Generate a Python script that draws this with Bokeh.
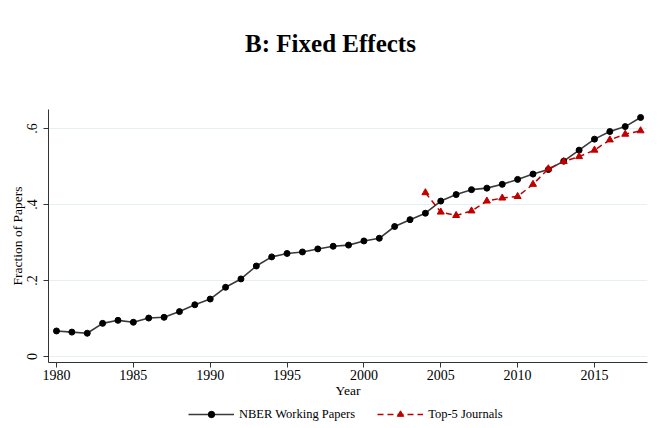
from bokeh.plotting import figure
from bokeh.models import Range1d, FixedTicker, Legend, LegendItem, Div
from bokeh.layouts import column
from bokeh.embed import file_html
from bokeh.resources import INLINE

nber_years = list(range(1980, 2019))
nber_vals = [0.067, 0.064, 0.061, 0.087, 0.095, 0.090, 0.101, 0.103, 0.118, 0.136,
             0.151, 0.182, 0.204, 0.238, 0.262, 0.271, 0.275, 0.283, 0.290, 0.293,
             0.304, 0.311, 0.342, 0.360, 0.377, 0.409, 0.426, 0.439, 0.443, 0.453,
             0.466, 0.480, 0.492, 0.514, 0.543, 0.572, 0.592, 0.605, 0.629]
top5_years = list(range(2004, 2019))
top5_vals = [0.431, 0.380, 0.371, 0.383, 0.409, 0.417, 0.421, 0.453, 0.494, 0.513,
             0.526, 0.543, 0.570, 0.585, 0.594]
x_ticks = [1980, 1985, 1990, 1995, 2000, 2005, 2010, 2015]
y_ticks = [0, 0.2, 0.4, 0.6]
y_tick_labels = ["0", ".2", ".4", ".6"]
title_text = "B: Fixed Effects"

FONT = "Liberation Serif"
W = 651

title = Div(text=title_text, width=W, height=78,
            styles={"font-family": FONT, "font-size": "25px", "font-weight": "bold",
                    "text-align": "center", "line-height": "78px", "color": "black",
                    "width": f"{W}px"})

p = figure(width=W, height=312, output_backend="svg", toolbar_location=None,
           x_range=Range1d(1979.48, 2018.45), y_range=Range1d(-0.016, 0.65),
           min_border_left=48, min_border_right=4, min_border_top=21, min_border_bottom=10)
p.outline_line_color = None
p.background_fill_color = "white"
p.border_fill_color = "white"

p.xaxis.ticker = FixedTicker(ticks=x_ticks)
p.yaxis.ticker = FixedTicker(ticks=y_ticks)
p.yaxis.major_label_overrides = {t: l for t, l in zip(y_ticks, y_tick_labels)}
p.yaxis.major_label_orientation = "vertical"
for ax in (p.xaxis, p.yaxis):
    ax.axis_line_color = "#333333"
    ax.major_tick_line_color = "#333333"
    ax.minor_tick_line_color = None
    ax.major_tick_out = 5
    ax.major_tick_in = 0
    ax.major_label_text_font = FONT
    ax.major_label_text_font_size = "14px"
    ax.major_label_text_color = "black"
    ax.axis_label_text_font = FONT
    ax.axis_label_text_font_size = "13.5px"
    ax.axis_label_text_font_style = "normal"
    ax.axis_label_text_color = "black"
    ax.axis_label_standoff = 0
p.xaxis.major_label_standoff = 2
p.yaxis.major_label_standoff = 6
p.xaxis.axis_label = "Year"
p.yaxis.axis_label = "Fraction of Papers"

p.xgrid.grid_line_color = None
p.ygrid.ticker = FixedTicker(ticks=y_ticks)
p.ygrid.grid_line_color = "#e6eff1"
p.ygrid.grid_line_width = 1

NBER_COLOR = "#3a3a3a"
TOP5_COLOR = "#c00000"

def draw(fig, xs, ys, dot=6, tri=7):
    l1 = fig.line(xs[0], ys[0], line_color=NBER_COLOR, line_width=1.6)
    s1 = fig.scatter(xs[0], ys[0], marker="circle", size=dot, fill_color="black", line_color="black")
    l2 = fig.line(xs[1], ys[1], line_color=TOP5_COLOR, line_width=1.5, line_dash="6 4")
    s2 = fig.scatter(xs[1], ys[1], marker="triangle", size=tri, fill_color=TOP5_COLOR, line_color=TOP5_COLOR)
    return l1, s1, l2, s2

draw(p, [nber_years, top5_years], [nber_vals, top5_vals])

# legend strip: same series, drawn outside its visible range so only the legend shows
lf = figure(width=W, height=22, output_backend="svg", toolbar_location=None,
            x_range=Range1d(0, 1), y_range=Range1d(0, 1),
            min_border_left=0, min_border_right=0, min_border_top=0, min_border_bottom=0,
            x_axis_location=None, y_axis_location=None)
lf.outline_line_color = None
lf.xgrid.visible = False
lf.ygrid.visible = False
l1, s1, l2, s2 = draw(lf, [nber_years, top5_years], [nber_vals, top5_vals], dot=5, tri=6)
legend = Legend(items=[LegendItem(label="NBER Working Papers", renderers=[l1, s1]),
                       LegendItem(label="Top-5 Journals", renderers=[l2, s2])],
                orientation="horizontal", location=(140, 0),
                label_text_font=FONT, label_text_font_size="12.5px", label_text_color="black",
                glyph_width=46, glyph_height=16, label_height=16, spacing=22,
                label_standoff=5,
                border_line_color=None, background_fill_alpha=0, padding=2, margin=0)
lf.add_layout(legend)

open("out.html", "w").write(file_html(column(title, p, lf, spacing=0), INLINE))
